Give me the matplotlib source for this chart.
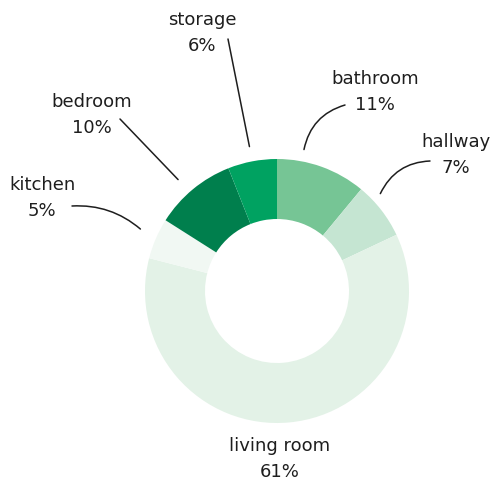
import numpy as np
import matplotlib
matplotlib.use("Agg")
import matplotlib.pyplot as plt
from matplotlib.patches import FancyArrowPatch

# data
rooms = ["bathroom", "hallway", "living room", "kitchen", "bedroom", "storage"]
shares = [11, 7, 61, 5, 10, 6]
colors = ["#76c595", "#c5e5d2", "#e3f2e7", "#f1f8f3", "#007f4d", "#00a261"]

W, H = 496, 481
cx, cy = 277, H - 292
R, ring = 132, 60

fig = plt.figure(figsize=(W / 100, H / 100), dpi=100)
ax = fig.add_axes([0, 0, 1, 1])
ax.pie(shares, colors=colors, startangle=90, counterclock=False,
       radius=R, center=(cx, cy),
       wedgeprops=dict(width=ring, linewidth=0, antialiased=True))
ax.set_xlim(0, W)
ax.set_ylim(0, H)
ax.set_aspect("equal")
ax.axis("off")

# label layout: text centre x, baseline y (pixels from top), leader start,
# curvature, angle tweak and gap from the ring
layout = {
    "bathroom":    dict(tx=375, ty=84,  start=(345, 106), rad=0.3,  tweak=9,   gap=12),
    "hallway":     dict(tx=456, ty=147, start=(430, 162), rad=0.3,  tweak=5.5, gap=10),
    "living room": dict(tx=280, ty=451, start=None,       rad=0,    tweak=0,   gap=0),
    "kitchen":     dict(tx=42,  ty=190, start=(72, 207),  rad=-0.2, tweak=-1,  gap=18),
    "bedroom":     dict(tx=92,  ty=107, start=(120, 120), rad=0.0,  tweak=2,   gap=17),
    "storage":     dict(tx=202, ty=25,  start=(228, 40),  rad=0.0,  tweak=0,   gap=15),
}

total = sum(shares)
angle = 90.0
for room, val in zip(rooms, shares):
    span = 360.0 * val / total
    mid = angle - span / 2
    angle -= span
    lay = layout[room]
    ax.text(lay["tx"], H - lay["ty"], room, ha="center", va="baseline",
            fontsize=13, color="#1e1e1e", family="DejaVu Sans")
    ax.text(lay["tx"], H - lay["ty"] - 26, f"{val}%", ha="center", va="baseline",
            fontsize=13, color="#1e1e1e", family="DejaVu Sans")
    if lay["start"] is None:
        continue
    a = np.radians(mid + lay["tweak"])
    r = R + lay["gap"]
    tip = (cx + r * np.cos(a), cy + r * np.sin(a))
    sx, sy = lay["start"]
    line = FancyArrowPatch((sx, H - sy), tip, arrowstyle="-",
                           connectionstyle=f"arc3,rad={lay['rad']}",
                           shrinkA=0, shrinkB=0, lw=1.1, color="#1e1e1e")
    ax.add_patch(line)

fig.savefig("out.png", dpi=100)
